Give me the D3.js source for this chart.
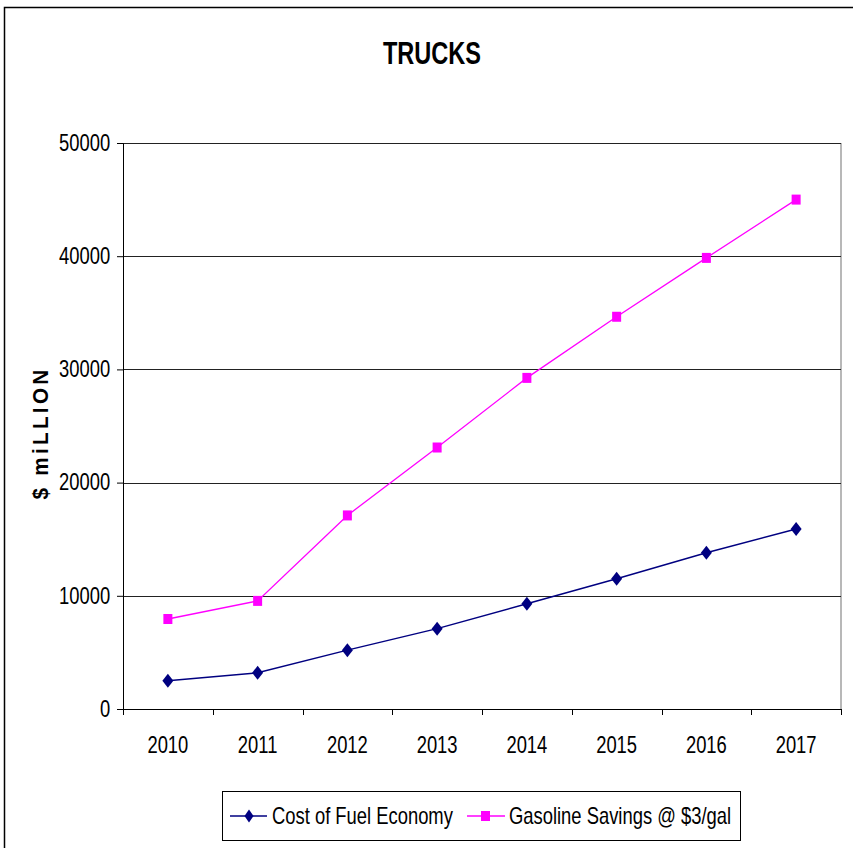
<!DOCTYPE html>
<html><head><meta charset="utf-8">
<script src="https://cdn.jsdelivr.net/npm/d3@7"></script>
<style>
html,body{margin:0;padding:0;background:#fff;}
svg{display:block;}
text{font-family:"Liberation Sans Narrow","Arial Narrow","Liberation Sans",Arial,sans-serif;}
</style></head>
<body>
<script>
const title = "TRUCKS";
const yTitle = "$ miLLION";
const years = ["2010","2011","2012","2013","2014","2015","2016","2017"];
const costFuelEconomy = [2500, 3200, 5200, 7100, 9300, 11500, 13800, 15900];
const gasolineSavings = [7950, 9550, 17100, 23100, 29250, 34650, 39850, 45000];
const yTicks = [0, 10000, 20000, 30000, 40000, 50000];
const seriesNames = ["Cost of Fuel Economy", "Gasoline Savings @ $3/gal"];

(function () {
const W = 853, H = 848;
const SX = 0.8; // horizontal condensation to mimic a narrow face
const svg = d3.select("body").append("svg").attr("width", W).attr("height", H);

// outer chart border
svg.append("rect").attr("x", 4.5).attr("y", 7.5).attr("width", 900).attr("height", 900)
  .attr("fill", "#fff").attr("stroke", "#000").attr("stroke-width", 1.5);

const pL = 123, pR = 841, pT = 143, pB = 709;
const x = d3.scaleBand().domain(years).range([pL, pR]).padding(0);
const y = d3.scaleLinear().domain([0, 50000]).range([pB, pT]);

// plot area right border
svg.append("line").attr("x1", pR).attr("x2", pR).attr("y1", pT).attr("y2", pB)
  .attr("stroke", "#b8b8b8").attr("stroke-width", 2);

// gridlines
svg.append("g").selectAll("line").data(yTicks.filter(d => d > 0)).join("line")
  .attr("x1", pL).attr("x2", pR)
  .attr("y1", d => Math.round(y(d)) + 0.5).attr("y2", d => Math.round(y(d)) + 0.5)
  .attr("stroke", "#222").attr("stroke-width", 1);

// y axis
const yAxis = svg.append("g").attr("transform", `translate(${pL},0)`)
  .call(d3.axisLeft(y).tickValues(yTicks).tickSize(6).tickPadding(10).tickFormat(d3.format("d")));
yAxis.select(".domain").attr("stroke", "#000");
yAxis.selectAll(".tick line").attr("stroke", "#000");
yAxis.selectAll("text").attr("font-size", 23).attr("fill", "#000")
  .attr("font-family", null).attr("transform", `scale(${SX},1)`);

// x axis
const xAxis = svg.append("g").attr("transform", `translate(0,${pB})`)
  .call(d3.axisBottom(x).tickSize(0).tickPadding(28));
xAxis.select(".domain").attr("stroke", "#000").attr("d", `M${pL},0.5H${pR}`);
xAxis.selectAll("text").attr("font-size", 23).attr("fill", "#000")
  .attr("font-family", null).attr("transform", `scale(${SX},1)`);
const bounds = years.map(d => x(d)).concat([x(years[years.length - 1]) + x.bandwidth()]);
xAxis.append("g").selectAll("line").data(bounds).join("line")
  .attr("x1", d => Math.round(d) + 0.5).attr("x2", d => Math.round(d) + 0.5)
  .attr("y1", 0).attr("y2", 6).attr("stroke", "#000");

const cx = d => x(d) + x.bandwidth() / 2;
const lineGen = d3.line().x(d => cx(d[0])).y(d => y(d[1]));

const blue = "#000080", pink = "#FF00FF";

function diamond(sel, w, h) {
  return sel.attr("d", `M0,${-h/2}L${w/2},0L0,${h/2}L${-w/2},0Z`);
}

svg.append("path").datum(years.map((d, i) => [d, gasolineSavings[i]]))
  .attr("d", lineGen).attr("fill", "none").attr("stroke", pink).attr("stroke-width", 1.3);
svg.append("path").datum(years.map((d, i) => [d, costFuelEconomy[i]]))
  .attr("d", lineGen).attr("fill", "none").attr("stroke", blue).attr("stroke-width", 1.5);

svg.append("g").selectAll("rect").data(years.map((d, i) => [d, gasolineSavings[i]])).join("rect")
  .attr("x", d => cx(d[0]) - 4.5).attr("y", d => y(d[1]) - 5)
  .attr("width", 9).attr("height", 10).attr("fill", pink);
svg.append("g").selectAll("path").data(years.map((d, i) => [d, costFuelEconomy[i]])).join("path")
  .attr("transform", d => `translate(${cx(d[0])},${y(d[1])})`)
  .call(diamond, 11, 14).attr("fill", blue);

function ctext(px, py, sx) {
  return svg.append("text")
    .attr("transform", `translate(${px},${py}) scale(${sx},1)`);
}

ctext(432, 64, 0.76).attr("text-anchor", "middle")
  .attr("font-size", 31).attr("font-weight", "bold").text(title);

svg.append("text").attr("transform", "translate(48,433) rotate(-90)")
  .attr("text-anchor", "middle").attr("font-size", 22).attr("font-weight", "bold")
  .attr("letter-spacing", 3.5).attr("textLength", 133).attr("lengthAdjust", "spacingAndGlyphs").text(yTitle);

const lg = svg.append("g");
lg.append("rect").attr("x", 222.5).attr("y", 791.5).attr("width", 518).attr("height", 49)
  .attr("fill", "#fff").attr("stroke", "#000").attr("stroke-width", 1);
const ly = 816;
lg.append("line").attr("x1", 230).attr("x2", 267).attr("y1", ly).attr("y2", ly)
  .attr("stroke", blue).attr("stroke-width", 1.5);
lg.append("path").attr("transform", `translate(249,${ly})`).call(diamond, 9, 13).attr("fill", blue);
ctext(272, ly + 8, SX).attr("font-size", 23).text(seriesNames[0]);
lg.append("line").attr("x1", 467).attr("x2", 505).attr("y1", ly).attr("y2", ly)
  .attr("stroke", pink).attr("stroke-width", 1.3);
lg.append("rect").attr("x", 481).attr("y", ly - 5).attr("width", 9).attr("height", 10).attr("fill", pink);
ctext(509, ly + 8, SX).attr("font-size", 23).text(seriesNames[1]);
})();
</script>
</body></html>
